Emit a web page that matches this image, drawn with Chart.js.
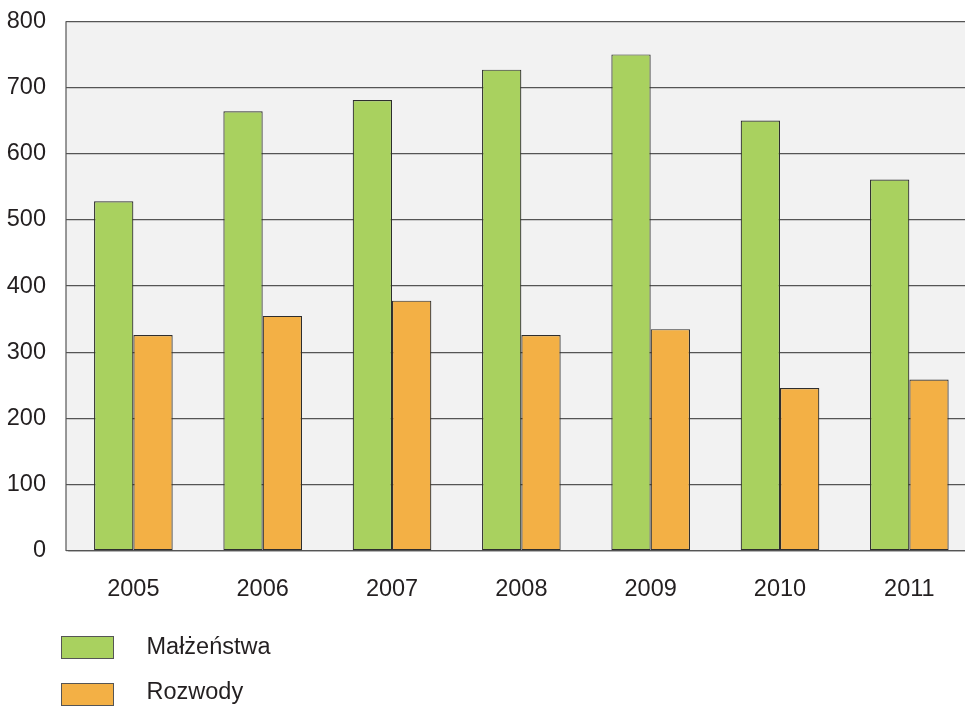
<!DOCTYPE html>
<html>
<head>
<meta charset="utf-8">
<script src="https://cdn.jsdelivr.net/npm/chart.js@4.4.0/dist/chart.umd.min.js"></script>
<style>
  html, body { margin: 0; padding: 0; background: #fff; overflow: hidden; width: 965px; height: 706px; }
  #wrap { position: absolute; left: 0; top: 0; width: 974px; height: 706px; }
  .lg-box { position: absolute; left: 60.5px; width: 51px; height: 21px; border: 1px solid #555; }
  .lg-txt { position: absolute; left: 146.5px; font-family: "Liberation Sans", Arial, sans-serif; font-size: 23.5px; line-height: 1; color: #231f20; white-space: nowrap; }
</style>
</head>
<body>
<div id="wrap"><canvas id="c"></canvas></div>
<div class="lg-box" id="lb0" style="top:635.7px;"></div>
<div class="lg-txt" id="lt0" style="top:635.2px;"></div>
<div class="lg-box" id="lb1" style="top:683.3px;"></div>
<div class="lg-txt" id="lt1" style="top:680px;"></div>
<script>
const years = ["2005", "2006", "2007", "2008", "2009", "2010", "2011"];
const seriesNames = ["Małżeństwa", "Rozwody"];
const marriages = [528, 664, 681, 727, 750, 650, 561];
const divorces = [326, 355, 378, 326, 335, 246, 259];
const yTicks = [0, 100, 200, 300, 400, 500, 600, 700, 800];

const colors = ["#a9d15f", "#f3b045"];

document.getElementById('lb0').style.background = colors[0];
document.getElementById('lb1').style.background = colors[1];
document.getElementById('lt0').textContent = seriesNames[0];
document.getElementById('lt1').textContent = seriesNames[1];

const FONT = '"Liberation Sans", Arial, sans-serif';
const FS = 23.5;
const EXT = 2.7;

const bgPlugin = {
  id: 'bgPlugin',
  beforeDraw(chart) {
    const { ctx, chartArea: a } = chart;
    ctx.save();
    ctx.fillStyle = '#f2f2f2';
    ctx.fillRect(a.left - EXT, a.top, a.right - a.left + EXT, a.bottom - a.top);
    ctx.restore();
  },
  afterDatasetsDraw(chart) {
    const { ctx, chartArea: a } = chart;
    ctx.save();
    ctx.strokeStyle = '#555555';
    ctx.lineWidth = 1.2;
    ctx.beginPath();
    ctx.moveTo(a.left - EXT, a.top);
    ctx.lineTo(a.left - EXT, a.bottom);
    ctx.stroke();
    ctx.restore();
  }
};

new Chart(document.getElementById('c'), {
  type: 'bar',
  data: {
    labels: years,
    datasets: [
      { label: seriesNames[0], data: marriages, backgroundColor: colors[0], borderColor: '#2e2e2e', borderWidth: 1.2, borderSkipped: false, categoryPercentage: 0.608, barPercentage: 1 },
      { label: seriesNames[1], data: divorces, backgroundColor: colors[1], borderColor: '#2e2e2e', borderWidth: 1.2, borderSkipped: false, categoryPercentage: 0.608, barPercentage: 1 }
    ]
  },
  options: {
    responsive: true,
    maintainAspectRatio: false,
    animation: false,
    layout: { padding: { top: 21.3, right: 0, bottom: 0, left: 0 } },
    plugins: { legend: { display: false }, tooltip: { enabled: false } },
    scales: {
      x: {
        grid: { display: false, drawTicks: false },
        border: { display: true, color: '#555555', width: 1.2 },
        ticks: { color: '#231f20', font: { family: FONT, size: FS }, padding: 25 },
        afterFit(s) { s.height = 706 - 550.9; s.paddingLeft = 0; s.paddingRight = 0; }
      },
      y: {
        min: 0, max: 800,
        afterBuildTicks(s) { s.ticks = yTicks.map(v => ({ value: v })); },
        grid: { color: '#555555', lineWidth: 1.2, drawTicks: true, tickLength: EXT, tickColor: '#555555' },
        border: { display: false },
        ticks: { color: '#231f20', font: { family: FONT, size: FS }, padding: 68.7 - EXT - 46 },
        afterFit(s) { s.width = 68.7; s.paddingTop = 0; s.paddingBottom = 0; }
      }
    }
  },
  plugins: [bgPlugin]
});
</script>
</body>
</html>
